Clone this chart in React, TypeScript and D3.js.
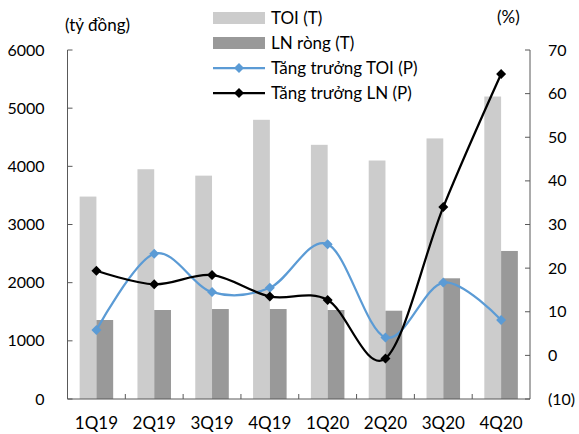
import React from "react";
import * as d3 from "d3";

const categories = ["1Q19", "2Q19", "3Q19", "4Q19", "1Q20", "2Q20", "3Q20", "4Q20"];
const toi = [3480, 3950, 3840, 4800, 4370, 4100, 4480, 5200];
const lnRong = [1358, 1530, 1547, 1547, 1530, 1518, 2075, 2545];
const toiGrowth = [5.8, 23.3, 14.5, 15.5, 25.5, 4.1, 16.7, 8.1];
const lnGrowth = [19.4, 16.3, 18.4, 13.5, 12.7, -0.7, 34.0, 64.5];
const leftTicks = [0, 1000, 2000, 3000, 4000, 5000, 6000];
const rightTicks = [-10, 0, 10, 20, 30, 40, 50, 60, 70];
const legendLabels = ["TOI (T)", "LN ròng (T)", "Tăng trưởng TOI (P)", "Tăng trưởng LN (P)"];

const W = 579, H = 434;
const left = 67.5, right = 530, top = 50, bottom = 399;
const FONT = "Lato, 'Open Sans', sans-serif";
const AXIS = "#595959";
const C_TOI = "#CCCCCC";
const C_LN = "#999999";
const C_BLUE = "#5B9BD5";

export default function App() {
  const x = d3.scaleBand().domain(categories).range([left, right]).paddingInner(0).paddingOuter(0);
  const yL = d3.scaleLinear().domain([0, 6000]).range([bottom, top]);
  const yR = d3.scaleLinear().domain([-10, 70]).range([bottom, top]);
  const bw = x.bandwidth() * 0.29;
  const cx = (c: string) => (x(c) as number) + x.bandwidth() / 2;

  const line = d3
    .line<number>()
    .x((_, i) => cx(categories[i]))
    .y((d) => yR(d))
    .curve(d3.curveCardinal.tension(0));

  const diamond = (px: number, py: number, r: number) =>
    `M${px},${py - r}L${px + r},${py}L${px},${py + r}L${px - r},${py}Z`;

  return (
    <svg width={W} height={H} style={{ position: "absolute", left: 0, top: 0 }} fontFamily={FONT}>
      <rect width={W} height={H} fill="#fff" />
      {/* bars */}
      {categories.map((c, i) => (
        <g key={c}>
          <rect x={cx(c) - bw} y={yL(toi[i])} width={bw} height={bottom - yL(toi[i])} fill={C_TOI} />
          <rect x={cx(c)} y={yL(lnRong[i])} width={bw} height={bottom - yL(lnRong[i])} fill={C_LN} />
        </g>
      ))}
      {/* axes */}
      <line x1={left} x2={left} y1={top} y2={bottom} stroke={AXIS} strokeWidth={1} />
      <line x1={right} x2={right} y1={top} y2={bottom} stroke={AXIS} strokeWidth={1} />
      <line x1={left} x2={right} y1={bottom} y2={bottom} stroke={AXIS} strokeWidth={1} />
      {leftTicks.map((t) => (
        <g key={"l" + t}>
          <line x1={left} x2={left + 5} y1={yL(t)} y2={yL(t)} stroke={AXIS} />
          <text x={44.5} y={yL(t)} dy="0.35em" textAnchor="end" fontSize={16} fill="#000">
            {t}
          </text>
        </g>
      ))}
      {rightTicks.map((t) => (
        <g key={"r" + t}>
          <line x1={right - 5} x2={right} y1={yR(t)} y2={yR(t)} stroke={AXIS} />
          <text x={548} y={yR(t)} dy="0.35em" textAnchor="start" fontSize={16} fill="#000">
            {t < 0 ? `(${Math.abs(t)})` : t}
          </text>
        </g>
      ))}
      {categories.map((c, i) => (
        <g key={"x" + c}>
          <line x1={x(c) as number} x2={x(c) as number} y1={bottom} y2={bottom - 5} stroke={AXIS} />
          <text x={cx(c)} y={423} dy="0.35em" textAnchor="middle" fontSize={17} fill="#000">
            {c}
          </text>
        </g>
      ))}
      <text x={65} y={25} dy="0.35em" fontSize={17} fill="#000">(tỷ đồng)</text>
      <text x={497} y={17} dy="0.35em" fontSize={17} fill="#000">(%)</text>
      {/* lines */}
      <path d={line(toiGrowth) || ""} fill="none" stroke={C_BLUE} strokeWidth={2.25} />
      {toiGrowth.map((v, i) => (
        <path key={"bt" + i} d={diamond(cx(categories[i]), yR(v), 5)} fill={C_BLUE} />
      ))}
      <path d={line(lnGrowth) || ""} fill="none" stroke="#000" strokeWidth={2.25} />
      {lnGrowth.map((v, i) => (
        <path key={"bl" + i} d={diamond(cx(categories[i]), yR(v), 5)} fill="#000" />
      ))}
      {/* legend */}
      <g>
        <rect x={213} y={12} width={52} height={12} fill={C_TOI} />
        <rect x={213} y={37} width={52} height={12} fill={C_LN} />
        <line x1={213} x2={265} y1={68} y2={68} stroke={C_BLUE} strokeWidth={2.25} />
        <path d={diamond(239, 68, 5)} fill={C_BLUE} />
        <line x1={213} x2={265} y1={93} y2={93} stroke="#000" strokeWidth={2.25} />
        <path d={diamond(239, 93, 5)} fill="#000" />
        {legendLabels.map((l, i) => (
          <text key={l} x={271} y={18 + i * 25} dy="0.35em" fontSize={17} fill="#000">
            {l}
          </text>
        ))}
      </g>
    </svg>
  );
}
